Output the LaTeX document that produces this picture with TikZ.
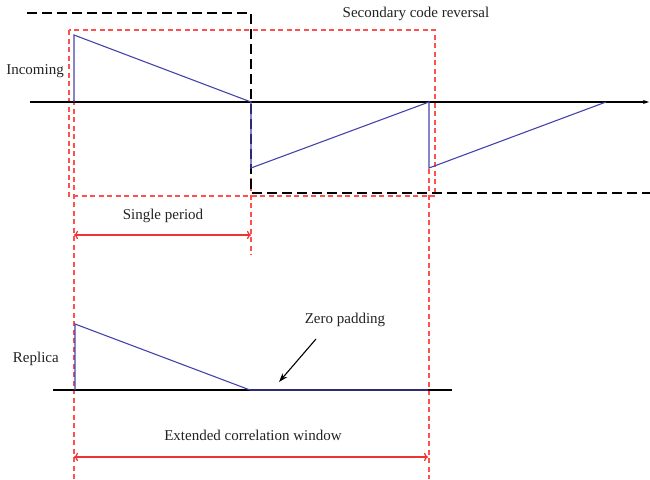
\documentclass[tikz,border=0pt]{standalone}
\usepackage{fontspec}
\setmainfont{Liberation Serif}
\usetikzlibrary{arrows.meta}
\definecolor{SawBlue}{HTML}{4444AA}
\definecolor{SpanRed}{HTML}{EE3333}
\definecolor{DashRed}{HTML}{FF5050}
\definecolor{LabelGray}{HTML}{222222}

\begin{document}
\begin{tikzpicture}[x=1pt,y=-1pt,
  axis/.style={draw=black,line width=1.1pt},
  saw/.style={draw=SawBlue,line width=1.1pt},
  codebox/.style={draw=black,dash pattern=on 10pt off 5pt,line width=1.3pt},
  winbox/.style={draw=DashRed,dash pattern=on 5pt off 3.5pt,line width=1.2pt},
  span/.style={draw=SpanRed,line width=1.2pt,{To[length=4pt]}-{To[length=4pt]}},
  lbl/.style={font=\fontsize{15}{18}\selectfont,text=LabelGray,inner sep=0pt}]
  \useasboundingbox (0,0) rectangle (650,479);

  % incoming signal
  \coordinate (inL) at (30,102);
  \coordinate (inR) at (649,102);
  \coordinate (p0) at (74,102);
  \coordinate (p1) at (74,35);
  \coordinate (p2) at (251,102);
  \coordinate (p3) at (251,168);
  \coordinate (p4) at (429,102);
  \coordinate (p5) at (429,168);
  \coordinate (p6) at (606,102);

  % replica
  \coordinate (reL) at (53,390);
  \coordinate (reR) at (452,390);
  \coordinate (r0) at (75,390);
  \coordinate (r1) at (75,324);
  \coordinate (r2) at (250,390);
  \coordinate (r3) at (428,390);

  % windows
  \draw[winbox] (69,30) rectangle (435,196);
  \draw[winbox] (74,100) -- (74,479);
  \draw[winbox] (251,169) -- (251,255);
  \draw[winbox] (429,169) -- (429,479);
  \draw[codebox] (27,13) -- (251,13) -- (251,193) -- (650,193);

  \draw[axis,-{Stealth[length=6pt,width=4pt]}] (inL) -- (inR);
  \draw[saw] (p0) -- (p1) -- (p2) -- (p3) -- (p4) -- (p5) -- (p6);
  \draw[axis] (reL) -- (reR);
  \draw[saw] (r0) -- (r1) -- (r2) -- (r3);

  \node[lbl,anchor=east] (incoming) at (64,71) {Incoming};
  \node[lbl,anchor=east] (replica) at (59,359) {Replica};
  \node[lbl] (reversal) at (416,14) {Secondary code reversal};
  \node[lbl] (single) at (163,216) {Single period};
  \node[lbl] (padding) at (345,320) {Zero padding};
  \node[lbl] (extended) at (253,435) {Extended correlation window};

  \coordinate (sgL) at (74,235);
  \coordinate (sgR) at (251,235);
  \coordinate (exL) at (74,457);
  \coordinate (exR) at (428,457);
  \draw[span] (sgL) -- (sgR);
  \draw[span] (exL) -- (exR);

  \coordinate (padTail) at (316,339);
  \coordinate (padTip) at (279,382);
  \draw[draw=black,line width=1.1pt,-{Stealth[length=9pt,width=6pt]}]
    (padTail) -- (padTip);
\end{tikzpicture}
\end{document}
